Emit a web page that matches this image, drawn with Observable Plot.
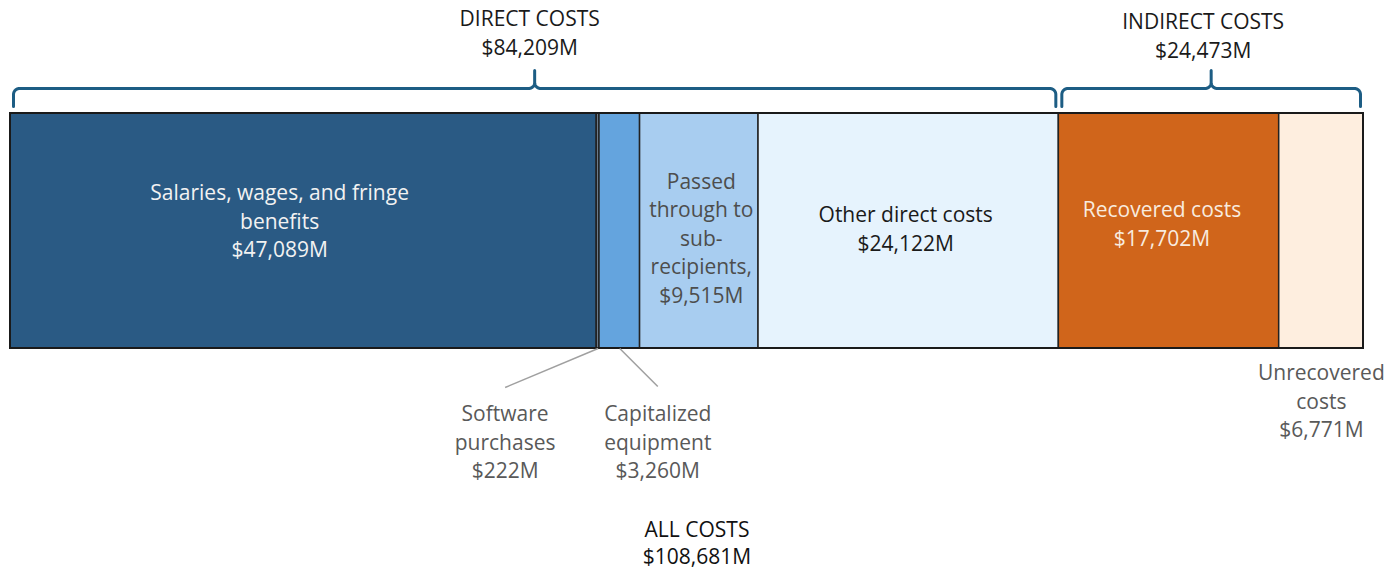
<!DOCTYPE html>
<html><head><meta charset="utf-8">
<script src="https://cdn.jsdelivr.net/npm/d3@7"></script>
<script src="https://cdn.jsdelivr.net/npm/@observablehq/plot@0.6"></script>
<style>
body{margin:0;background:#fff;}
g[aria-description="header"] text { font-stretch: 92%; }
</style></head><body><div id="chart"></div>
<script>
// ---- data ----
const categories = ["Salaries", "Software", "Capitalized", "Passed", "Other", "Recovered", "Unrecovered"];
const labelNames = [
  "Salaries, wages, and fringe\nbenefits",
  "Software\npurchases",
  "Capitalized\nequipment",
  "Passed\nthrough to\nsub-\nrecipients,",
  "Other direct costs",
  "Recovered costs",
  "Unrecovered\ncosts"
];
const values = [47089, 222, 3260, 9515, 24122, 17702, 6771];
const groupOf = ["Direct", "Direct", "Direct", "Direct", "Direct", "Indirect", "Indirect"];
const colors = ["#2a5a84", "#6a7a8a", "#64a4de", "#a8cdf0", "#e6f3fd", "#d0651b", "#feeedf"];
const groupNames = ["DIRECT COSTS", "INDIRECT COSTS"];
const groupKeys = ["Direct", "Indirect"];
const groupTotals = [84209, 24473];
const allName = "ALL COSTS";
const allTotal = 108681;

// ---- layout (pixel rows from top, pixel offsets) ----
const W = 1400, H = 569, ML = 10, MR = 37;
const BAR_TOP = 113, BAR_BOTTOM = 348;
const FS = 21, LH = 1.36;
const fmt = v => "$" + d3.format(",")(v) + "M";

let acc = 0;
const segs = categories.map((c, i) => {
  const x1 = acc; acc += values[i];
  return {key: c, x1, x2: acc, mid: (x1 + acc) / 2, value: values[i], fill: colors[i],
          text: labelNames[i] + "\n" + fmt(values[i]), group: groupOf[i]};
});
const total = acc;
const k = total / (W - ML - MR); // data units per pixel

const inside = {
  Salaries:  {y: 219, dx: -24, color: "#f2f2f2"},
  Passed:    {y: 236, dx: 2,   color: "#4d4d4d"},
  Other:     {y: 227, dx: -3,  color: "#1a1a1a"},
  Recovered: {y: 222, dx: -7,  color: "#f8ebdf"}
};
const outside = {
  Software:    {y: 440, dx: -93, ly: 387, leader: true},
  Capitalized: {y: 440, dx: 38,  ly: 386, leader: true},
  Unrecovered: {y: 399, dx: 0,   leader: false}
};

const insideLabels = segs.filter(s => inside[s.key]).map(s => ({...s, ...inside[s.key], lx: s.mid + inside[s.key].dx * k}));
const outsideLabels = segs.filter(s => outside[s.key]).map(s => ({...s, ...outside[s.key], lx: s.mid + outside[s.key].dx * k}));
const leaders = outsideLabels.filter(d => d.leader);

const groupsData = groupKeys.map((g, i) => {
  const gs = segs.filter(s => s.group === g);
  const x1 = gs[0].x1, x2 = gs[gs.length - 1].x2;
  const mid = (x1 + x2) / 2;
  return {name: groupNames[i], total: groupTotals[i], x1, x2, mid,
          cusp: mid,
          lx: mid + (i === 0 ? -5 : -8) * k,
          text: groupNames[i] + "\n" + fmt(groupTotals[i]), ty: i === 0 ? 31 : 34};
});

function brace(g) {
  const inset = 3 * k, r = 6;
  const a = g.x1 + inset, b = g.x2 - inset, m = g.cusp;
  const yTip = 106, yH = 88, yPeak = 70;
  const pts = [];
  const arc = (cx, cy, a0, a1) => { for (let t = 0; t <= 12; t++) { const th = a0 + (a1 - a0) * t / 12; pts.push({x: cx + Math.cos(th) * r * k, y: cy + Math.sin(th) * r, g: g.name}); } };
  pts.push({x: a, y: yTip, g: g.name});
  arc(a + r * k, yH + r, Math.PI, 1.5 * Math.PI);
  arc(m - r * k, yH - r, 0.5 * Math.PI, 0);
  pts.push({x: m, y: yPeak, g: g.name});
  arc(m + r * k, yH - r, Math.PI, 0.5 * Math.PI);
  arc(b - r * k, yH + r, 1.5 * Math.PI, 2 * Math.PI);
  pts.push({x: b, y: yTip, g: g.name});
  return pts;
}
const bracePts = groupsData.flatMap(brace);

const chart = Plot.plot({
  width: W, height: H,
  marginLeft: ML, marginRight: MR, marginTop: 0, marginBottom: 0,
  x: {domain: [0, total], axis: null},
  y: {domain: [0, H], reverse: true, axis: null},
  style: {fontFamily: "'Open Sans', sans-serif", background: "#fff"},
  marks: [
    Plot.rect(segs, {x1: "x1", x2: "x2", y1: BAR_TOP, y2: BAR_BOTTOM, fill: "fill", stroke: "#222", strokeWidth: 1.5}),
    Plot.rect([{x1: 0, x2: total}], {x1: "x1", x2: "x2", y1: BAR_TOP, y2: BAR_BOTTOM, fill: "none", stroke: "#1a1a1a", strokeWidth: 2}),
    Plot.line(bracePts, {x: "x", y: "y", z: "g", stroke: "#1d5d84", strokeWidth: 3, curve: "linear"}),
    Plot.text(groupsData, {x: "lx", y: "ty", text: "text", fontSize: FS, lineHeight: LH, fill: "#1a1a1a", ariaDescription: "header"}),
    Plot.text(insideLabels, {x: "lx", y: "y", text: "text", fontSize: FS, lineHeight: LH, fill: d => d.color}),
    Plot.link(leaders, {x1: "mid", y1: BAR_BOTTOM, x2: "lx", y2: "ly", stroke: "#a0a0a0", strokeWidth: 1.5}),
    Plot.text(outsideLabels, {x: "lx", y: "y", text: "text", fontSize: FS, lineHeight: LH, fill: "#595959"}),
    Plot.text([{x: total / 2 + 10 * k, t: allName + "\n" + fmt(allTotal)}], {x: "x", y: 541, text: "t", fontSize: FS, lineHeight: 1.3, fill: "#111"})
  ]
});
document.getElementById("chart").appendChild(chart);
</script></body></html>
